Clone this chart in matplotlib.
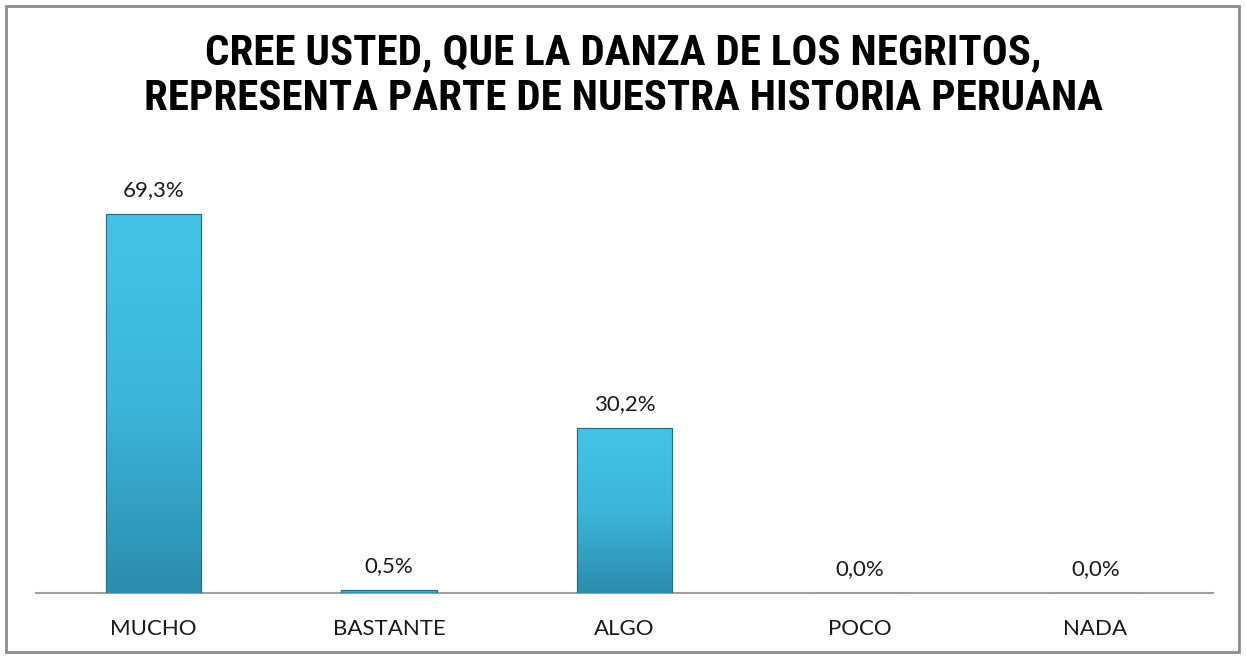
import matplotlib.pyplot as plt
import numpy as np
from matplotlib.patches import Rectangle
from matplotlib.colors import LinearSegmentedColormap

categorias = ["MUCHO", "BASTANTE", "ALGO", "POCO", "NADA"]
porcentajes = [69.3, 0.5, 30.2, 0.0, 0.0]
etiquetas = ["69,3%", "0,5%", "30,2%", "0,0%", "0,0%"]
titulo = "CREE USTED, QUE LA DANZA DE LOS NEGRITOS,\nREPRESENTA PARTE DE NUESTRA HISTORIA PERUANA"

fig = plt.figure(figsize=(12.46, 6.56), dpi=100)
ax = fig.add_axes([0.0289, 0.0960, 0.9446, 0.6677])

x = np.arange(len(categorias))
bars = ax.bar(x, porcentajes, width=0.405, color="#37AED3",
              edgecolor="#1F6F88", linewidth=0.8, zorder=2)

# degradado vertical dentro de cada barra
grad = LinearSegmentedColormap.from_list("g", ["#2C8DAE", "#3BB6DA", "#45C3E6"])
for b in bars:
    h = b.get_height()
    if h <= 0:
        continue
    img = ax.imshow(np.linspace(0, 1, 100).reshape(-1, 1), cmap=grad,
                    origin="lower", aspect="auto", zorder=3,
                    extent=[b.get_x(), b.get_x() + b.get_width(), 0, h])
    img.set_clip_path(b)
    ax.add_patch(Rectangle((b.get_x(), 0), b.get_width(), h, fill=False,
                           edgecolor="#1F6F88", linewidth=0.8, zorder=4))

for xi, v, lab in zip(x, porcentajes, etiquetas):
    ax.annotate(lab, (xi, v), xytext=(0, 10), textcoords="offset points",
                ha="center", va="bottom", fontsize=16, family="Lato",
                color="#1a1a1a")

ax.set_xlim(-0.5, len(categorias) - 0.5)
ax.set_ylim(0, 80)
ax.set_xticks(x)
ax.set_xticklabels(categorias, fontsize=16, family="Lato", color="#1a1a1a")
ax.tick_params(axis="x", length=0, pad=19)
ax.set_yticks([])
for s in ["top", "right", "left"]:
    ax.spines[s].set_visible(False)
ax.spines["bottom"].set_color("#A0A0A0")
ax.spines["bottom"].set_linewidth(1.5)
ax.spines["bottom"].set_zorder(1)

fig.text(0.5, 0.885, titulo, ha="center", va="center", fontsize=31,
         fontweight="bold", family="Roboto Condensed", linespacing=1.15,
         color="black")

fig.add_artist(Rectangle((0.005, 0.006), 0.989, 0.985, transform=fig.transFigure,
                         fill=False, edgecolor="#8C8C8C", linewidth=2))

fig.savefig("out.png", dpi=100)
